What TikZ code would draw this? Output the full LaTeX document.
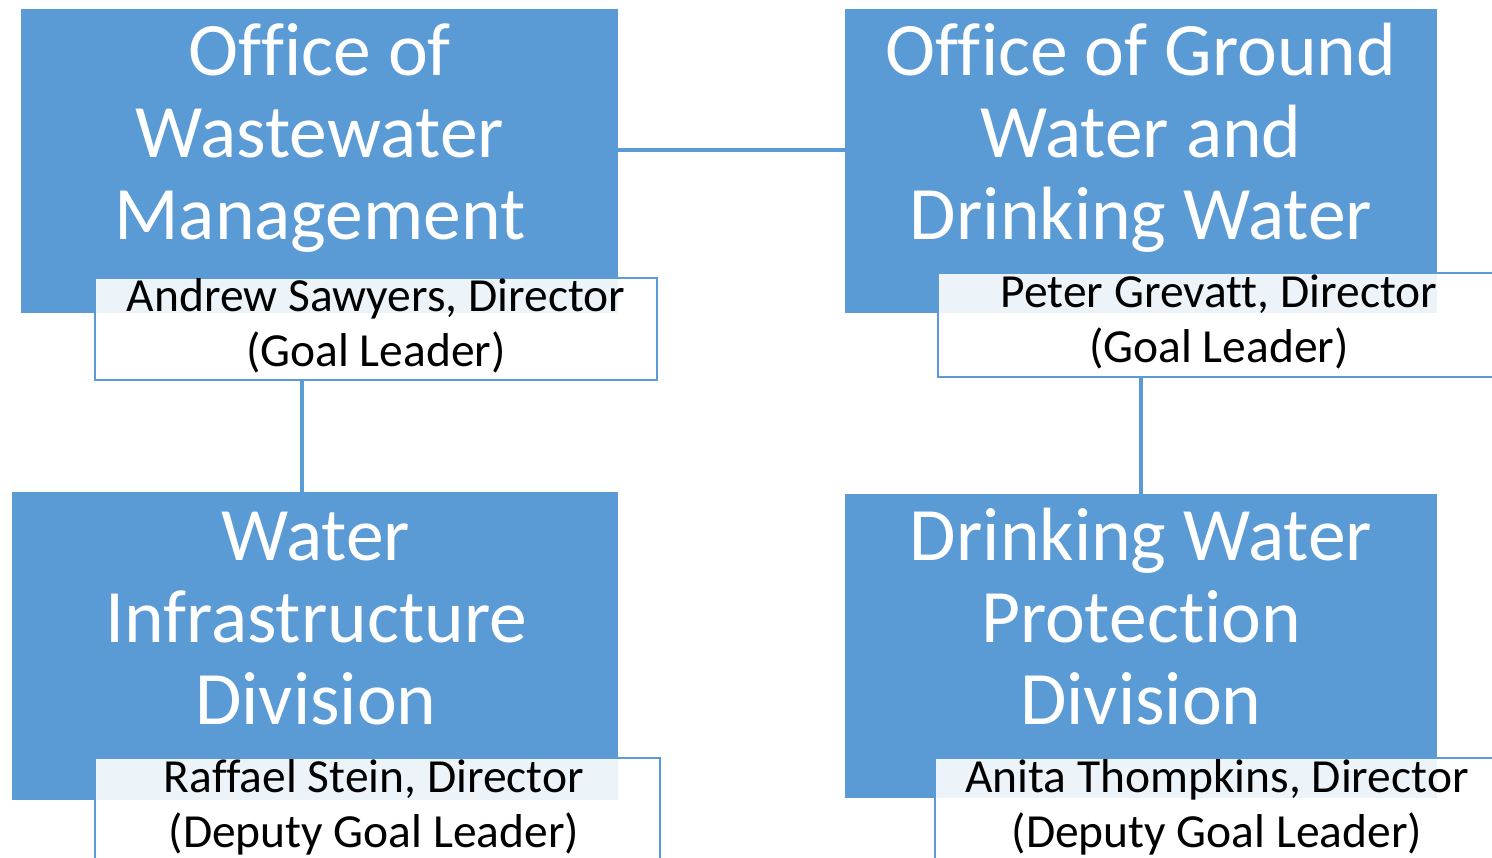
\documentclass[tikz,border=0pt]{standalone}
\usepackage{fontspec}
\setmainfont[Ligatures={NoCommon,NoRequired,NoContextual},RawFeature={-liga;-clig;-calt}]{Carlito}
\definecolor{boxblue}{HTML}{5B9BD5}
\begin{document}
\begin{tikzpicture}[x=1pt,y=-1pt,
  bluebox/.style={draw=none,fill=boxblue,rectangle,inner sep=0pt,minimum width=#1,minimum height=304pt},
  titletext/.style={text=white,align=center,inner sep=0pt,anchor=base,font=\fontsize{75.5}{82}\selectfont},
  labelbox/.style={draw=boxblue,line width=2pt,fill=white,fill opacity=0.89,rectangle,inner sep=0pt,minimum height=102pt,minimum width=#1},
  labeltext/.style={text=black,align=center,inner sep=0pt,anchor=base,font=\fontsize{47.5}{55}\selectfont},
  conn/.style={draw=boxblue,line width=3.5pt}]
\useasboundingbox (0,0) rectangle (1492,858);
\clip (0,0) rectangle (1492,858);
% boxes
\node[bluebox=597pt] (b1) at (319.5,161) {};
\node[bluebox=592pt] (b2) at (1141,161) {};
\node[bluebox=606pt,minimum height=308pt] (b3) at (315,646) {};
\node[bluebox=592pt] (b4) at (1141,646) {};
% titles (anchored at last baseline)
\node[titletext] (t1) at (320,240) {Office of\\Wastewater\\Management};
\node[titletext] (t2) at (1141,240) {Office of Ground\\Water and\\Drinking Water};
\node[titletext] (t3) at (316,724) {Water\\Infrastructure\\Division};
\node[titletext] (t4) at (1141,724) {Drinking Water\\Protection\\Division};
% label boxes
\node[labelbox=562pt] (l1) at (376,329) {};
\node[labelbox=562pt,minimum height=104pt] (l2) at (1219,325) {};
\node[labelbox=565pt] (l3) at (377.5,809) {};
\node[labelbox=565pt] (l4) at (1217.5,809) {};
\node[labeltext] (n1) at (376,367) {Andrew Sawyers, Director\\(Goal Leader)};
\node[labeltext] (n2) at (1219,363) {Peter Grevatt, Director\\(Goal Leader)};
\node[labeltext] (n3) at (374,847) {Raffael Stein, Director\\(Deputy Goal Leader)};
\node[labeltext] (n4) at (1217,847) {Anita Thompkins, Director\\(Deputy Goal Leader)};
% connectors
\coordinate (hy) at (0,150);
\coordinate (vx) at (302,0);
\draw[conn] (b1.east |- hy) -- (b2.west |- hy);
\draw[conn] (vx |- l1.south) -- (vx |- b3.north);
\draw[conn] (l2.south -| b4.north) -- (b4.north);
\end{tikzpicture}
\end{document}
